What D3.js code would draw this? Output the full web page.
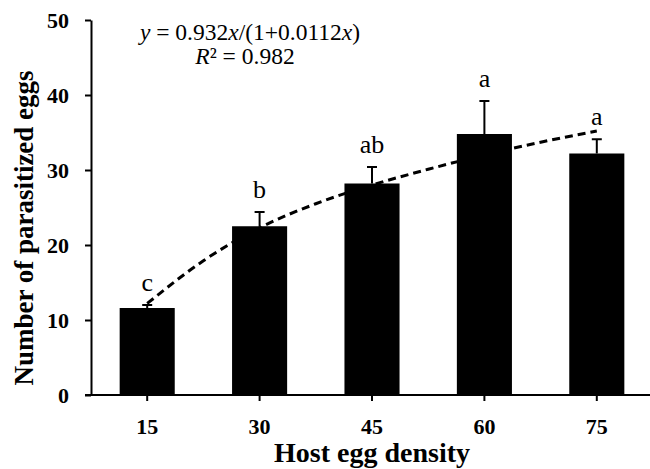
<!DOCTYPE html>
<html>
<head>
<meta charset="utf-8">
<script src="https://d3js.org/d3.v7.min.js"></script>
<style>
  body { margin: 0; background: white; }
  text { font-family: "Liberation Serif", "Times New Roman", serif; }
</style>
</head>
<body>
<div id="plot"></div>
<script>
// data
var densities = ['15', '30', '45', '60', '75']
var means = [11.6, 22.5, 28.2, 34.8, 32.2]
var errors = [0.4, 1.9, 2.2, 4.4, 1.9]
var letters = ['c', 'b', 'ab', 'a', 'a']

// dashed fitted curve
var curveX = [15, 22.5, 30, 37.5, 45, 52.5, 60, 67.5, 75]
var curveY = [12.2, 17.9, 22.3, 25.5, 28.0, 30.1, 32.0, 33.7, 35.2]

var yTicks = [0, 10, 20, 30, 40, 50]

var W = 650, H = 469
var svg = d3.select('#plot').append('svg')
    .attr('width', W)
    .attr('height', H)

var x = d3.scaleBand()
    .domain(densities)
    .range([91, 653])
    .paddingInner(0.51)
    .paddingOuter(0.255)

var y = d3.scaleLinear()
    .domain([0, 50])
    .range([395, 20])

var xLin = d3.scaleLinear()
    .domain([15, 75])
    .range([x('15') + x.bandwidth() / 2, x('75') + x.bandwidth() / 2])

//BARS
var bars = densities.map(function(d, i) {
  return {k: d, v: means[i], e: errors[i], l: letters[i]}
})

svg.selectAll('.bar')
    .data(bars)
    .enter()
    .append('rect')
      .attr('class', 'bar')
      .attr('x', function(d) { return x(d.k) })
      .attr('y', function(d) { return y(d.v) })
      .attr('width', x.bandwidth())
      .attr('height', function(d) { return y(0) - y(d.v) })
      .attr('fill', '#000')

//ERROR BARS (upper only)
var eb = svg.selectAll('.err')
    .data(bars)
    .enter()
    .append('g')
      .attr('class', 'err')
      .attr('stroke', '#000')
      .attr('stroke-width', 2)
eb.append('line')
    .attr('x1', function(d) { return x(d.k) + x.bandwidth() / 2 })
    .attr('x2', function(d) { return x(d.k) + x.bandwidth() / 2 })
    .attr('y1', function(d) { return y(d.v) })
    .attr('y2', function(d) { return y(d.v + d.e) })
eb.append('line')
    .attr('x1', function(d) { return x(d.k) + x.bandwidth() / 2 - 5 })
    .attr('x2', function(d) { return x(d.k) + x.bandwidth() / 2 + 5 })
    .attr('y1', function(d) { return y(d.v + d.e) })
    .attr('y2', function(d) { return y(d.v + d.e) })

//LETTERS
svg.selectAll('.letter')
    .data(bars)
    .enter()
    .append('text')
      .attr('class', 'letter')
      .attr('x', function(d) { return x(d.k) + x.bandwidth() / 2 })
      .attr('y', function(d) { return y(d.v + d.e) - 14 })
      .attr('text-anchor', 'middle')
      .style('font-size', '26px')
      .text(function(d) { return d.l })

//FIT CURVE
var line = d3.line()
    .x(function(d) { return xLin(d[0]) })
    .y(function(d) { return y(d[1]) })
    .curve(d3.curveMonotoneX)

svg.append('path')
    .datum(d3.zip(curveX, curveY))
    .attr('d', line)
    .attr('fill', 'none')
    .attr('stroke', '#000')
    .attr('stroke-width', 3)
    .attr('stroke-dasharray', '8,5')

//AXES
var xAxis = svg.append('g')
    .attr('transform', 'translate(0,' + y(0) + ')')
    .call(d3.axisBottom(x).tickSize(6).tickSizeOuter(0).tickPadding(17))
var yAxis = svg.append('g')
    .attr('transform', 'translate(91,0)')
    .call(d3.axisLeft(y).tickValues(yTicks).tickSize(6).tickSizeOuter(0).tickPadding(16))

svg.selectAll('.domain, .tick line')
    .attr('stroke', '#000')
    .attr('stroke-width', 2)
svg.selectAll('.tick text')
    .attr('font-family', null)
    .attr('font-size', null)
    .style('font-size', '22px')
    .style('font-weight', 'bold')
    .attr('fill', '#000')
// zero tick stub on the left of the baseline
xAxis.select('.domain').attr('d', 'M85,0H653')

//TITLES
svg.append('text')
    .attr('x', 372)
    .attr('y', 462)
    .attr('text-anchor', 'middle')
    .style('font-size', '28px')
    .style('font-weight', 'bold')
    .text('Host egg density')

svg.append('text')
    .attr('transform', 'translate(33,228) rotate(-90)')
    .attr('text-anchor', 'middle')
    .style('font-size', '27px')
    .style('font-weight', 'bold')
    .text('Number of parasitized eggs')

//EQUATION
var eq = svg.append('text')
    .attr('x', 250)
    .attr('y', 40)
    .attr('text-anchor', 'middle')
    .style('font-size', '23.5px')
eq.append('tspan').style('font-style', 'italic').text('y')
eq.append('tspan').text(' = 0.932')
eq.append('tspan').style('font-style', 'italic').text('x')
eq.append('tspan').text('/(1+0.0112')
eq.append('tspan').style('font-style', 'italic').text('x')
eq.append('tspan').text(')')

var r2 = svg.append('text')
    .attr('x', 245)
    .attr('y', 64)
    .attr('text-anchor', 'middle')
    .style('font-size', '23.5px')
r2.append('tspan').style('font-style', 'italic').text('R')
r2.append('tspan').text('² = 0.982')
</script>
</body>
</html>
